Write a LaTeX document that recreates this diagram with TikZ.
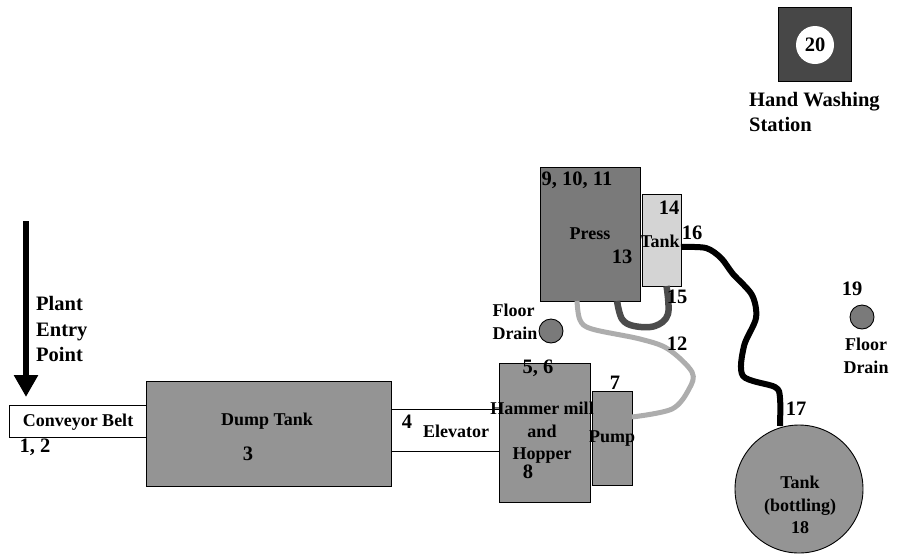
\documentclass[tikz,border=0pt]{standalone}
\usepackage{fontspec}
\setmainfont{Liberation Serif}
\usetikzlibrary{arrows.meta}

\begin{document}
\begin{tikzpicture}[
  x=1pt, y=-1pt,
  unit/.style={draw, line width=0.9pt, inner sep=0pt, outer sep=0pt},
  belt/.style={unit, fill=white},
  dumpfill/.style={unit, fill=black!42},
  pressfill/.style={unit, fill=black!52},
  lightfill/.style={unit, fill=black!17},
  darkfill/.style={unit, fill=black!72},
  lbl/.style={font=\fontsize{18}{22.5}\selectfont\bfseries, inner sep=0pt, align=center},
  biglbl/.style={lbl, font=\fontsize{20.5}{25.5}\selectfont\bfseries},
  leftlbl/.style={biglbl, align=left, anchor=west},
  pipe/.style={line width=6pt, black, line join=round},
  returnpipe/.style={line width=6.5pt, black!70, line join=round},
  transfer/.style={line width=5pt, black!32, line join=round}
]
  \useasboundingbox (0,0) rectangle (902,558);

  % belts behind the tanks
  \node[belt, minimum width=137pt, minimum height=32pt] (conveyor) at (77.5,421) {};
  \node[belt, minimum width=108pt, minimum height=42pt] (elevator) at (445,430) {};

  % process units
  \node[dumpfill, minimum width=245pt, minimum height=105pt] (dumptank) at (268.5,433.5) {};
  \node[pressfill, minimum width=100pt, minimum height=134pt] (press) at (590,234) {};
  \node[lightfill, minimum width=39pt, minimum height=92pt] (holdtank) at (661.5,240) {};
  \node[dumpfill, minimum width=91pt, minimum height=139pt] (hammer) at (544.5,432.5) {};
  \node[dumpfill, minimum width=40pt, minimum height=94pt] (pump) at (612,438) {};
  \node[dumpfill, circle, minimum size=128pt] (bottling) at (799,489) {};

  % drains and wash station
  \node[pressfill, circle, minimum size=24pt] (draina) at (551,331) {};
  \node[pressfill, circle, minimum size=24pt] (drainb) at (862,317) {};
  \node[darkfill, minimum width=73pt, minimum height=74pt] (wash) at (814.5,44) {};
  \node[circle, fill=white, inner sep=0pt, minimum size=38pt, font=\fontsize{20.5}{25}\selectfont\bfseries] (washno) at (815,45) {20};

  % pipe runs
  \coordinate (entry) at (26,221);
  \coordinate (pressout) at ([xshift=-13pt]press.south);
  \coordinate (pumpout) at ([yshift=21pt]pump.east);
  \coordinate (holdout) at ([yshift=-7pt]holdtank.east);
  \coordinate (bottlein) at ([shift={(-19pt,-1pt)}]bottling.north);
  \coordinate (pressret) at ([xshift=27pt]press.south);
  \coordinate (holdret) at ([xshift=5pt]holdtank.south);

  \draw[-{Triangle[length=22pt,width=23pt]}, line width=6pt, shorten >=8pt] (entry) -- (entry |- conveyor.north);
  \draw[transfer] plot[smooth, tension=0.55] coordinates {(pressout) (580,320) (592,329) (640,339) (668,349) (692,372) (689,389) (672,409) (pumpout)};
  \draw[returnpipe] plot[smooth, tension=0.6] coordinates {(pressret) (622,319) (634,326) (655,326) (668,314) (holdret)};
  \draw[pipe] plot[smooth, tension=0.5] coordinates {(holdout) (706,248) (721,258) (733,274) (752,295) (756,318) (744,346) (743,376) (775,387) (780,398) (bottlein)};

  % labels
  \node[leftlbl] (plantlbl) at (36,329) {Plant\\Entry\\Point};
  \node[lbl] (conveyorlbl) at (78,422) {Conveyor Belt};
  \node[biglbl] (nrbelt) at (35,447) {1, 2};
  \node[lbl] (dumplbl) at (267,421) {Dump Tank};
  \node[biglbl] (nrdump) at (248,454) {3};
  \node[biglbl] (nrelev) at (407,422) {4};
  \node[lbl] (elevlbl) at (456,431) {Elevator};
  \node[biglbl] (nrmill) at (538,368) {5, 6};
  \node[lbl] (milllbl) at (542,433) {Hammer mill\\and\\Hopper};
  \node[biglbl] (nrhopper) at (528,472) {8};
  \node[biglbl] (nrpump) at (615,383) {7};
  \node[lbl] (pumplbl) at (612,439) {Pump};
  \node[biglbl] (nrpress) at (577,180) {9, 10, 11};
  \node[lbl] (presslbl) at (590,234) {Press};
  \node[biglbl] (nrcake) at (622,257) {13};
  \node[biglbl] (nrhold) at (669,208) {14};
  \node[lbl] (holdlbl) at (660,241) {Tank};
  \node[biglbl] (nrout) at (692,233) {16};
  \node[biglbl] (nrret) at (677,297) {15};
  \node[biglbl] (nrtransfer) at (677,344) {12};
  \node[lbl, align=left] (drainalbl) at (515,322) {Floor\\Drain};
  \node[biglbl] (nrdrainb) at (852,289) {19};
  \node[lbl] (drainblbl) at (866,356) {Floor\\Drain};
  \node[biglbl] (nrbottlein) at (796,409) {17};
  \node[lbl] (bottlelbl) at (800,505) {Tank\\(bottling)\\18};
  \node[leftlbl] (washlbl) at (749,112) {Hand Washing\\Station};
\end{tikzpicture}
\end{document}
